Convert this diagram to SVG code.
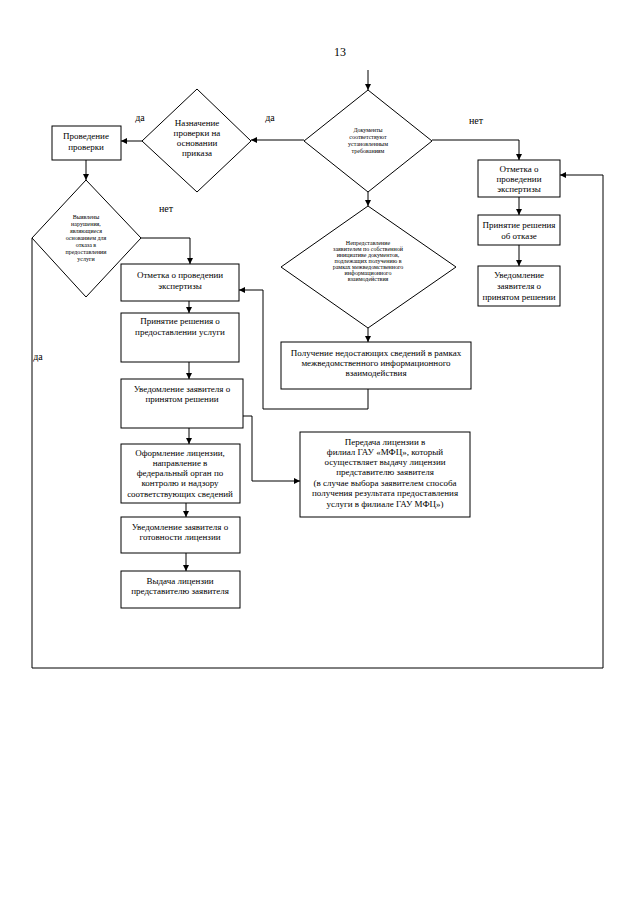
<svg xmlns="http://www.w3.org/2000/svg" width="640" height="905" viewBox="0 0 640 905">
<style>
.b{fill:#fff;stroke:#000;stroke-width:1}
.c{fill:none;stroke:#000;stroke-width:1}
text{font-family:"Liberation Serif","Times New Roman",serif;fill:#000;text-anchor:middle}
.t{font-size:9px}
.s{font-size:6px}
.l{font-size:10px}
</style>
<defs>
<marker id="a" markerUnits="userSpaceOnUse" markerWidth="8" markerHeight="8" refX="6" refY="3" orient="auto">
<path d="M0,0 L6,3 L0,6 z" fill="#000"/>
</marker>
</defs>
<rect width="640" height="905" fill="#fff"/>
<text x="340" y="56" style="font-size:12px">13</text>

<g id="connectors" class="c" marker-end="url(#a)">
<path d="M368,70 V90"/>
<path d="M432,140 H519 V160"/>
<path d="M304,140 H251"/>
<path d="M142,141 H121"/>
<path d="M86,160 V180"/>
<path d="M141,238 H190 V264"/>
<path d="M32,238 V668 H603 V175 H560"/>
<path d="M368,192 V206"/>
<path d="M368,328 V342"/>
<path d="M368,389 V409 H263 V290 H239"/>
<path d="M189,301 V313"/>
<path d="M189,362 V379"/>
<path d="M189,428 V444"/>
<path d="M243,416 H252 V481 H300"/>
<path d="M186,503 V517"/>
<path d="M186,553 V571"/>
<path d="M519,197 V215"/>
<path d="M519,245 V266"/>
</g>

<g id="labels" class="l">
<text x="140" y="121">да</text>
<text x="270" y="121">да</text>
<text x="476" y="124">нет</text>
<text x="166" y="212">нет</text>
<text x="38" y="360">да</text>
</g>

<g id="d1">
<polygon class="b" points="368,90 432,141 368,192 304,141"/>
<text class="s" x="368" y="132">Документы</text>
<text class="s" x="368" y="139">соответствуют</text>
<text class="s" x="368" y="146">установленным</text>
<text class="s" x="368" y="153">требованиям</text>
</g>

<g id="d2">
<polygon class="b" points="197,89 251,141 197,192 142,141"/>
<text class="t" x="197" y="126">Назначение</text>
<text class="t" x="197" y="136">проверки на</text>
<text class="t" x="197" y="146">основании</text>
<text class="t" x="197" y="156">приказа</text>
</g>

<g id="l1">
<rect class="b" x="52" y="126" width="69" height="34"/>
<text class="t" x="86" y="139">Проведение</text>
<text class="t" x="86" y="150">проверки</text>
</g>

<g id="d3">
<polygon class="b" points="86,180 141,238 86,297 32,238"/>
<text class="s" x="86" y="219">Выявлены</text>
<text class="s" x="86" y="226">нарушения,</text>
<text class="s" x="86" y="233">являющиеся</text>
<text class="s" x="86" y="240">основанием для</text>
<text class="s" x="86" y="247">отказа в</text>
<text class="s" x="86" y="254">предоставлении</text>
<text class="s" x="86" y="261">услуги</text>
</g>

<g id="d4">
<polygon class="b" points="368,206 456,267 368,328 281,267"/>
<text class="s" x="368" y="245">Непредставление</text>
<text class="s" x="368" y="251">заявителем по собственной</text>
<text class="s" x="368" y="257">инициативе документов,</text>
<text class="s" x="368" y="263">подлежащих получению в</text>
<text class="s" x="368" y="269">рамках межведомственного</text>
<text class="s" x="368" y="275">информационного</text>
<text class="s" x="368" y="281">взаимодействия</text>
</g>

<g id="p1">
<rect class="b" x="281" y="342" width="190" height="47"/>
<text class="t" x="376" y="356">Получение недостающих сведений в рамках</text>
<text class="t" x="376" y="366">межведомственного информационного</text>
<text class="t" x="376" y="376">взаимодействия</text>
</g>

<g id="r1">
<rect class="b" x="478" y="160" width="82" height="37"/>
<text class="t" x="519" y="172">Отметка о</text>
<text class="t" x="519" y="182">проведении</text>
<text class="t" x="519" y="192">экспертизы</text>
</g>
<g id="r2">
<rect class="b" x="478" y="215" width="82" height="30"/>
<text class="t" x="519" y="228">Принятие решения</text>
<text class="t" x="519" y="239">об отказе</text>
</g>
<g id="r3">
<rect class="b" x="478" y="266" width="82" height="40"/>
<text class="t" x="519" y="278">Уведомление</text>
<text class="t" x="519" y="289">заявителя о</text>
<text class="t" x="519" y="300">принятом решении</text>
</g>

<g id="c1">
<rect class="b" x="121" y="264" width="118" height="37"/>
<text class="t" x="180" y="278">Отметка о проведении</text>
<text class="t" x="180" y="289">экспертизы</text>
</g>
<g id="c2">
<rect class="b" x="121" y="313" width="118" height="49"/>
<text class="t" x="180" y="324">Принятие решения о</text>
<text class="t" x="180" y="335">предоставлении услуги</text>
</g>
<g id="c3">
<rect class="b" x="121" y="379" width="122" height="49"/>
<text class="t" x="182" y="392">Уведомление заявителя о</text>
<text class="t" x="182" y="402">принятом решении</text>
</g>
<g id="c4">
<rect class="b" x="121" y="444" width="119" height="59"/>
<text class="t" x="180" y="456">Оформление лицензии,</text>
<text class="t" x="180" y="466">направление в</text>
<text class="t" x="180" y="476">федеральный орган по</text>
<text class="t" x="180" y="486">контролю и надзору</text>
<text class="t" x="180" y="497">соответствующих сведений</text>
</g>
<g id="c5">
<rect class="b" x="121" y="517" width="119" height="36"/>
<text class="t" x="180" y="530">Уведомление заявителя о</text>
<text class="t" x="180" y="540">готовности лицензии</text>
</g>
<g id="c6">
<rect class="b" x="121" y="571" width="119" height="37"/>
<text class="t" x="180" y="584">Выдача лицензии</text>
<text class="t" x="180" y="594">представителю заявителя</text>
</g>

<g id="t1">
<rect class="b" x="300" y="432" width="170" height="85"/>
<text class="t" x="385" y="445">Передача лицензии в</text>
<text class="t" x="385" y="455">филиал ГАУ «МФЦ», который</text>
<text class="t" x="385" y="465">осуществляет выдачу лицензии</text>
<text class="t" x="385" y="475">представителю заявителя</text>
<text class="t" x="385" y="486">(в случае выбора заявителем способа</text>
<text class="t" x="385" y="496">получения результата предоставления</text>
<text class="t" x="385" y="507">услуги в филиале ГАУ МФЦ»)</text>
</g>
</svg>
